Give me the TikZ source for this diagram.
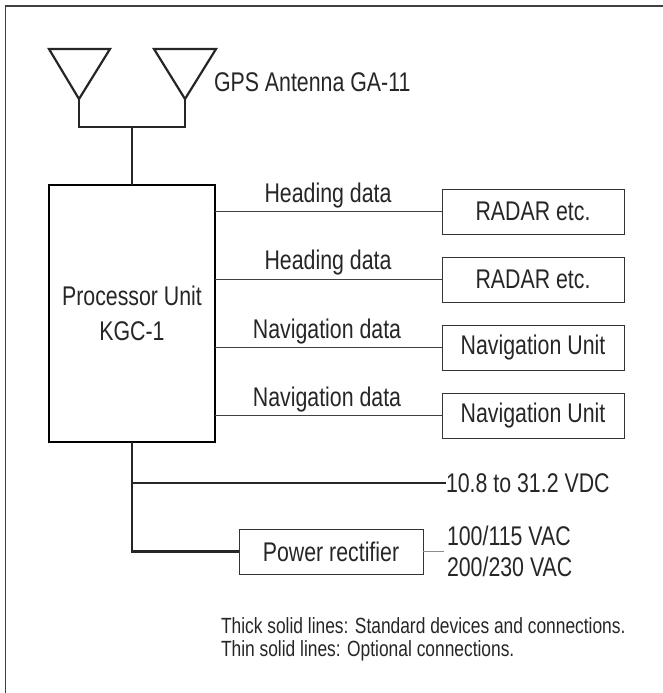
\documentclass[tikz,border=0pt]{standalone}
\usepackage{fontspec}
\setmainfont[FakeStretch=0.79]{Liberation Sans}
\begin{document}
\begin{tikzpicture}[x=1pt,y=-1pt,
  every node/.style={inner sep=0pt, outer sep=0pt, font=\fontsize{27}{32}\selectfont, text=black!85},
  thickln/.style={line width=2.2pt, draw=black!85},
  thinln/.style={line width=1pt, draw=black!75},
  optbox/.style={draw=black!80, line width=1pt, minimum width=182pt, minimum height=45pt},
  lbl/.style={anchor=base},
  note/.style={anchor=base west, font=\fontsize{22}{26}\selectfont}]
\useasboundingbox (0,0) rectangle (663,693);
% frame
\draw[line width=1.5pt, black!75] (663,6) -- (5.5,6) -- (5.5,693);
% antennas
\coordinate (a1) at (79,99);
\coordinate (a2) at (185,99);
\coordinate (aj) at (132,127);
\draw[thickln, line join=miter] (49,49) -- (110,49) -- (a1) -- cycle;
\draw[thickln, line join=miter] (154,49) -- (216,49) -- (a2) -- cycle;
\node[anchor=base west] (gps) at (214,91) {GPS Antenna GA-11};
% processor
\node[draw=black, line width=2.4pt, minimum width=166pt, minimum height=257pt,
      align=center, font=\fontsize{27}{35}\selectfont] (proc) at (132,313.5)
      {Processor Unit\\KGC-1};
\draw[thickln] (a1) |- (aj) -| (a2);
\draw[thickln] (aj) -- (proc.north);
% optional boxes
\node[optbox] (r1) at (533,211.5) {RADAR etc.};
\node[optbox] (r2) at (533,279.5) {RADAR etc.};
\node[optbox] (n1) at (533,347.5) {Navigation Unit};
\node[optbox] (n2) at (533,415.5) {Navigation Unit};
\draw[thinln] (r1.west -| proc.east) -- (r1.west);
\draw[thinln] (r2.west -| proc.east) -- (r2.west);
\draw[thinln] (n1.west -| proc.east) -- (n1.west);
\draw[thinln] (n2.west -| proc.east) -- (n2.west);
\node[lbl] (l1) at (328,202) {Heading data};
\node[lbl] (l2) at (328,269) {Heading data};
\node[lbl] (l3) at (327,338) {Navigation data};
\node[lbl] (l4) at (327,406) {Navigation data};
% power
\node[anchor=west] (dc) at (446,483) {10.8 to 31.2 VDC};
\node[draw=black!80, line width=1pt, minimum width=184pt, minimum height=45pt] (rect) at (331,551.5) {Power rectifier};
\coordinate (pj) at (132,483);
\coordinate (pe) at (444,551.5);
\draw[thickln] (proc.south) |- (rect.west);
\draw[thickln] (pj) -- (dc.west);
\draw[line width=1pt, black!45] (rect.east) -- (pe);
\node[anchor=west] (ac1) at (447,536) {100/115 VAC};
\node[anchor=west] (ac2) at (447,567) {200/230 VAC};
% notes
\node[note] (nt1) at (221,633) {Thick solid lines: Standard devices and connections.};
\node[note] (nt2) at (221,656) {Thin solid lines: Optional connections.};
\end{tikzpicture}
\end{document}
